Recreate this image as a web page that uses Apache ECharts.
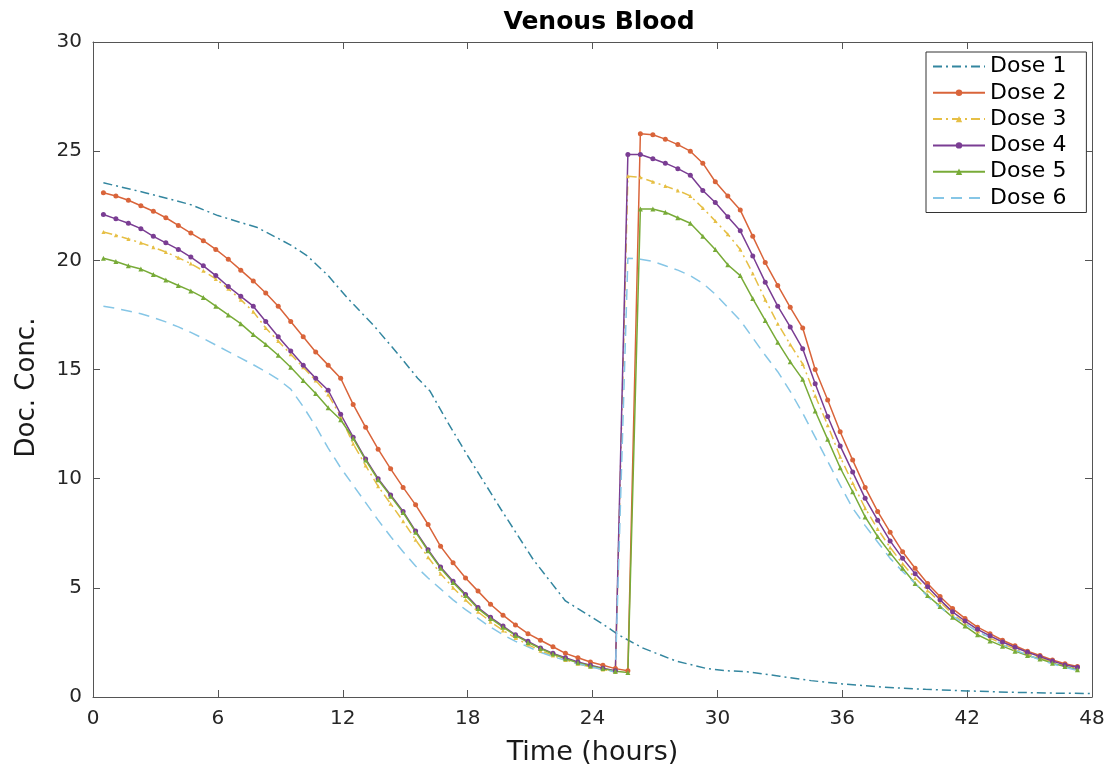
<!DOCTYPE html>
<html>
<head>
<meta charset="utf-8">
<script src="https://cdn.jsdelivr.net/npm/echarts@6/dist/echarts.min.js"></script>
<style>
  html, body { margin: 0; padding: 0; background: #fff; }
  #chart { width: 1119px; height: 771px; }
</style>
</head>
<body>
<div id="chart"></div>
<script>
// Sampling times (hours) shared by the marked dose curves
const sampleHours = [0.5, 1.1, 1.7, 2.3, 2.9, 3.5, 4.1, 4.7, 5.3, 5.9, 6.5, 7.1, 7.7, 8.3, 8.9, 9.5, 10.1, 10.7, 11.3, 11.9,
  12.5, 13.1, 13.7, 14.3, 14.9, 15.5, 16.1, 16.7, 17.3, 17.9, 18.5, 19.1, 19.7, 20.3, 20.9, 21.5, 22.1, 22.7, 23.3, 23.9,
  24.5, 25.1, 25.7, 26.3, 26.9, 27.5, 28.1, 28.7, 29.3, 29.9, 30.5, 31.1, 31.7, 32.3, 32.9, 33.5, 34.1, 34.7, 35.3, 35.9,
  36.5, 37.1, 37.7, 38.3, 38.9, 39.5, 40.1, 40.7, 41.3, 41.9, 42.5, 43.1, 43.7, 44.3, 44.9, 45.5, 46.1, 46.7, 47.3];

// Dose 1: single dose, its own time points
const dose1Hours = [0.5, 2.5, 4.7, 6.0, 7.9, 9.5, 10.3, 11.3, 12.2, 13.5, 14.75, 15.6, 16.2, 17.0, 18.0, 19.6, 21.15, 22.7,
  24.4, 25.25, 26.4, 28.0, 29.5, 30.5, 31.5, 33.0, 34.5, 36.0, 38.0, 40.0, 42.0, 44.0, 46.0, 47.9];
const dose1Conc = [23.55, 23.1, 22.55, 22.05, 21.5, 20.7, 20.2, 19.3, 18.3, 17.0, 15.6, 14.6, 14.0, 12.65, 11.05, 8.6, 6.3, 4.4,
  3.4, 2.85, 2.25, 1.65, 1.3, 1.2, 1.15, 0.95, 0.75, 0.6, 0.45, 0.35, 0.28, 0.22, 0.18, 0.16];

const dose2Conc = [23.1, 22.95, 22.75, 22.5, 22.25, 21.95, 21.6, 21.25, 20.9, 20.5, 20.05, 19.55, 19.05, 18.5, 17.9, 17.2, 16.5, 15.8, 15.2, 14.6,
  13.4, 12.35, 11.35, 10.45, 9.6, 8.8, 7.9, 6.9, 6.15, 5.45, 4.85, 4.25, 3.75, 3.3, 2.9, 2.6, 2.3, 2.0, 1.8, 1.6,
  1.45, 1.3, 1.2, 25.8, 25.75, 25.55, 25.3, 25.0, 24.45, 23.6, 22.95, 22.3, 21.1, 19.9, 18.85, 17.85, 16.9, 15.0, 13.6, 12.15,
  10.85, 9.6, 8.5, 7.55, 6.65, 5.9, 5.2, 4.6, 4.05, 3.6, 3.2, 2.9, 2.6, 2.35, 2.1, 1.9, 1.7, 1.52, 1.4];

const dose3Conc = [21.3, 21.15, 20.98, 20.8, 20.6, 20.38, 20.12, 19.85, 19.52, 19.15, 18.7, 18.2, 17.65, 16.9, 16.3, 15.7, 15.1, 14.5, 13.85, 12.85,
  11.6, 10.6, 9.65, 8.85, 8.05, 7.2, 6.4, 5.65, 5.0, 4.45, 3.9, 3.45, 3.05, 2.7, 2.4, 2.12, 1.9, 1.7, 1.52, 1.38,
  1.26, 1.15, 23.85, 23.8, 23.6, 23.4, 23.2, 22.95, 22.4, 21.8, 21.2, 20.5, 19.4, 18.2, 17.1, 16.15, 15.25, 13.8, 12.45, 11.0,
  9.8, 8.65, 7.7, 6.85, 6.1, 5.45, 4.88, 4.35, 3.8, 3.38, 3.0, 2.7, 2.44, 2.2, 1.98, 1.8, 1.6, 1.44, 1.3];

const dose4Conc = [22.1, 21.9, 21.7, 21.45, 21.1, 20.8, 20.5, 20.15, 19.75, 19.3, 18.8, 18.35, 17.9, 17.2, 16.5, 15.85, 15.2, 14.6, 14.05, 12.95,
  11.9, 10.9, 10.0, 9.25, 8.5, 7.6, 6.75, 5.95, 5.3, 4.7, 4.1, 3.65, 3.25, 2.85, 2.55, 2.25, 2.0, 1.8, 1.6, 1.45,
  1.32, 1.2, 24.85, 24.85, 24.65, 24.45, 24.2, 23.9, 23.2, 22.65, 22.0, 21.35, 20.2, 19.0, 17.9, 16.95, 15.95, 14.35, 12.85, 11.5,
  10.3, 9.1, 8.1, 7.15, 6.35, 5.65, 5.05, 4.45, 3.9, 3.48, 3.1, 2.8, 2.52, 2.28, 2.05, 1.85, 1.65, 1.47, 1.36];

const dose5Conc = [20.1, 19.95, 19.75, 19.6, 19.35, 19.1, 18.85, 18.6, 18.3, 17.9, 17.5, 17.1, 16.6, 16.15, 15.65, 15.1, 14.5, 13.9, 13.25, 12.7,
  11.85, 10.85, 9.95, 9.2, 8.45, 7.55, 6.7, 5.9, 5.25, 4.65, 4.05, 3.6, 3.2, 2.82, 2.5, 2.22, 1.97, 1.75, 1.57, 1.42,
  1.3, 1.18, 1.12, 22.35, 22.35, 22.2, 21.95, 21.7, 21.1, 20.5, 19.8, 19.3, 18.25, 17.25, 16.25, 15.35, 14.55, 13.1, 11.8, 10.5,
  9.4, 8.25, 7.35, 6.6, 5.9, 5.2, 4.65, 4.15, 3.65, 3.25, 2.85, 2.57, 2.33, 2.1, 1.9, 1.74, 1.55, 1.4, 1.25];

const dose6Conc = [17.9, 17.8, 17.68, 17.55, 17.38, 17.18, 16.95, 16.7, 16.42, 16.12, 15.82, 15.52, 15.22, 14.9, 14.55, 14.1, 13.3, 12.4, 11.4, 10.5,
  9.7, 8.9, 8.1, 7.35, 6.65, 6.0, 5.45, 4.95, 4.45, 4.0, 3.6, 3.2, 2.85, 2.55, 2.3, 2.05, 1.85, 1.68, 1.52, 1.38,
  1.26, 1.15, 20.1, 20.05, 19.95, 19.75, 19.55, 19.3, 18.95, 18.45, 17.85, 17.25, 16.45, 15.65, 14.9, 14.0, 13.0, 11.9, 10.8, 9.7,
  8.65, 7.85, 7.1, 6.35, 5.75, 5.2, 4.6, 4.1, 3.7, 3.35, 3.0, 2.72, 2.4, 2.15, 1.93, 1.7, 1.52, 1.36, 1.22];

const seriesNames = ['Dose 1', 'Dose 2', 'Dose 3', 'Dose 4', 'Dose 5', 'Dose 6'];
const xTicks = [0, 6, 12, 18, 24, 30, 36, 42, 48];
const yTicks = [0, 5, 10, 15, 20, 25, 30];

const FONT = 'DejaVu Sans, sans-serif';
const AXIS_COLOR = '#555555';

function pairs(hours, conc) {
  return hours.map((t, i) => [t, conc[i]]);
}

function lineSeries(name, data, color, dash, symbol, symbolSize) {
  return {
    name: name,
    type: 'line',
    data: data,
    symbol: symbol,
    symbolSize: symbolSize,
    showSymbol: symbol !== 'none',
    itemStyle: { color: color },
    lineStyle: { color: color, width: 1.5, type: dash },
    emphasis: { disabled: true },
    animation: false
  };
}

// Box frame: axis lines on all four sides, ticks pointing into the plot
function frameAxis(extra) {
  return Object.assign({
    axisLine: { show: true, onZero: false, lineStyle: { color: AXIS_COLOR, width: 1 } },
    axisTick: { show: true, inside: true, length: 7, lineStyle: { color: AXIS_COLOR } },
    splitLine: { show: false }
  }, extra);
}

const chart = echarts.init(document.getElementById('chart'));

chart.setOption({
  backgroundColor: '#ffffff',
  title: {
    text: 'Venous Blood',
    left: 594,
    top: 5,
    textAlign: 'center',
    textStyle: { fontFamily: FONT, fontWeight: 'bold', fontSize: 25, color: '#000' }
  },
  grid: { left: 93, right: 27, top: 42, bottom: 72, containLabel: false },
  legend: {
    data: seriesNames.map(n => (n === 'Dose 1' || n === 'Dose 6')
      ? { name: n, itemStyle: { opacity: 0 } }
      : { name: n }),
    orient: 'vertical',
    left: 926,
    top: 52,
    padding: [2, 20, 2, 6],
    itemWidth: 52,
    itemHeight: 8,
    itemGap: 1.3,
    backgroundColor: '#fff',
    borderColor: '#333',
    borderWidth: 1,
    textStyle: { fontFamily: FONT, fontSize: 22, lineHeight: 25, color: '#000' }
  },
  xAxis: [
    frameAxis({
      type: 'value', min: xTicks[0], max: xTicks[xTicks.length - 1], interval: 6,
      name: 'Time (hours)', nameLocation: 'middle', nameGap: 42,
      nameTextStyle: { fontFamily: FONT, fontSize: 27, color: '#1a1a1a' },
      axisLabel: { fontFamily: FONT, fontSize: 20, color: '#262626', margin: 12 }
    }),
    frameAxis({
      type: 'value', position: 'top', min: 0, max: 48, interval: 6,
      axisLabel: { show: false }
    })
  ],
  yAxis: [
    frameAxis({
      type: 'value', min: yTicks[0], max: yTicks[yTicks.length - 1], interval: 5,
      name: 'Doc. Conc.', nameLocation: 'middle', nameGap: 53, nameRotate: 90,
      nameTextStyle: { fontFamily: FONT, fontSize: 26, color: '#1a1a1a', padding: [0, 36, 0, 0] },
      axisLabel: { fontFamily: FONT, fontSize: 20, color: '#262626', margin: 11 }
    }),
    frameAxis({
      type: 'value', position: 'right', min: 0, max: 30, interval: 5,
      axisLabel: { show: false }
    })
  ],
  series: [
    lineSeries('Dose 1', pairs(dose1Hours, dose1Conc), '#33869f', [9, 4, 2, 4], 'none', 0),
    lineSeries('Dose 2', pairs(sampleHours, dose2Conc), '#d9643a', 'solid', 'circle', 5),
    lineSeries('Dose 3', pairs(sampleHours, dose3Conc), '#e6bf45', [9, 4, 2, 4], 'triangle', 4),
    lineSeries('Dose 4', pairs(sampleHours, dose4Conc), '#7a3d93', 'solid', 'circle', 5),
    lineSeries('Dose 5', pairs(sampleHours, dose5Conc), '#78ab38', 'solid', 'triangle', 5),
    lineSeries('Dose 6', pairs(sampleHours, dose6Conc), '#86c6e6', [11, 7], 'none', 0)
  ]
});
</script>
</body>
</html>
